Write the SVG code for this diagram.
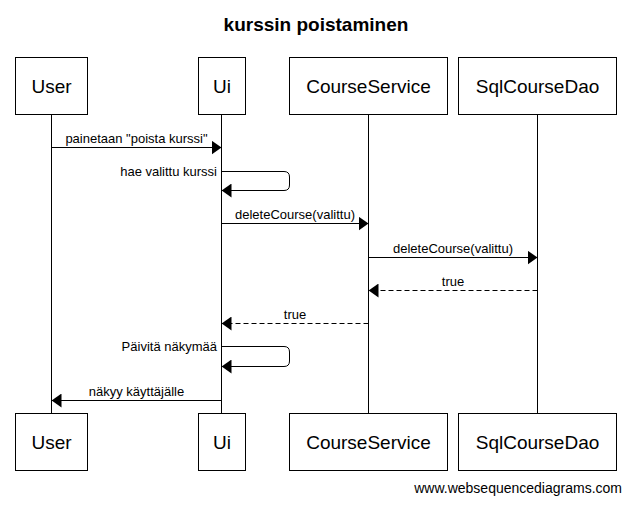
<svg xmlns="http://www.w3.org/2000/svg" width="631" height="505" viewBox="0 0 631 505">
<style>
.box{fill:#fff;stroke:#000;stroke-width:1}
.life{stroke:#000;stroke-width:1}
.msg{fill:none;stroke:#000;stroke-width:1}
.dash{stroke-dasharray:5,3}
.pt{font-family:"Liberation Sans",Arial,sans-serif;font-size:19px;fill:#000;text-anchor:middle}
.lbl{font-family:"Liberation Sans",Arial,sans-serif;font-size:13px;fill:#000;text-anchor:middle}
.lr{text-anchor:end}
.title{font-family:"Liberation Sans",Arial,sans-serif;font-size:19px;font-weight:bold;fill:#000;text-anchor:middle}
.foot{font-family:"Liberation Sans",Arial,sans-serif;font-size:14px;fill:#000;text-anchor:end}
</style>
<defs>
<marker id="ah" markerWidth="10" markerHeight="14" refX="10" refY="7" orient="auto" markerUnits="userSpaceOnUse">
<path d="M0,0 L10,7 L0,14 z" fill="#000"/>
</marker>
</defs>
<rect width="631" height="505" fill="#fff"/>
<text class="title" x="316" y="31">kurssin poistaminen</text>
<g id="lifelines">
<line class="life" x1="51.5" y1="114" x2="51.5" y2="413"/>
<line class="life" x1="221.5" y1="114" x2="221.5" y2="413"/>
<line class="life" x1="368.5" y1="114" x2="368.5" y2="413"/>
<line class="life" x1="537.5" y1="114" x2="537.5" y2="413"/>
</g>
<g id="node-user">
<rect class="box" x="15.5" y="57.5" width="72" height="57"/>
<text class="pt" x="51.5" y="93">User</text>
<rect class="box" x="15.5" y="413.5" width="72" height="57"/>
<text class="pt" x="51.5" y="449">User</text>
</g>
<g id="node-ui">
<rect class="box" x="198.5" y="57.5" width="47" height="57"/>
<text class="pt" x="222" y="93">Ui</text>
<rect class="box" x="198.5" y="413.5" width="47" height="57"/>
<text class="pt" x="222" y="449">Ui</text>
</g>
<g id="node-courseservice">
<rect class="box" x="289.5" y="57.5" width="158" height="57"/>
<text class="pt" x="368.5" y="93">CourseService</text>
<rect class="box" x="289.5" y="413.5" width="158" height="57"/>
<text class="pt" x="368.5" y="449">CourseService</text>
</g>
<g id="node-sqlcoursedao">
<rect class="box" x="458.5" y="57.5" width="158" height="57"/>
<text class="pt" x="537.5" y="93">SqlCourseDao</text>
<rect class="box" x="458.5" y="413.5" width="158" height="57"/>
<text class="pt" x="537.5" y="449">SqlCourseDao</text>
</g>
<g id="connectors">
<line class="msg" x1="51.5" y1="147.5" x2="221.5" y2="147.5" marker-end="url(#ah)"/>
<text class="lbl" x="136.5" y="143">painetaan "poista kurssi"</text>
<path class="msg" d="M221.5,171.5 H284 Q289.5,171.5 289.5,177 V185 Q289.5,190.5 284,190.5 H221.5" marker-end="url(#ah)"/>
<text class="lbl lr" x="217" y="176">hae valittu kurssi</text>
<line class="msg" x1="221.5" y1="223.5" x2="368.5" y2="223.5" marker-end="url(#ah)"/>
<text class="lbl" x="295" y="219">deleteCourse(valittu)</text>
<line class="msg" x1="368.5" y1="257.5" x2="537.5" y2="257.5" marker-end="url(#ah)"/>
<text class="lbl" x="453" y="253">deleteCourse(valittu)</text>
<line class="msg dash" x1="537.5" y1="290.5" x2="368.5" y2="290.5" marker-end="url(#ah)"/>
<text class="lbl" x="453" y="286">true</text>
<line class="msg dash" x1="368.5" y1="323.5" x2="221.5" y2="323.5" marker-end="url(#ah)"/>
<text class="lbl" x="295" y="319">true</text>
<path class="msg" d="M221.5,346.5 H284 Q289.5,346.5 289.5,352 V361 Q289.5,366.5 284,366.5 H221.5" marker-end="url(#ah)"/>
<text class="lbl lr" x="217" y="351">Päivitä näkymää</text>
<line class="msg" x1="221.5" y1="400.5" x2="51.5" y2="400.5" marker-end="url(#ah)"/>
<text class="lbl" x="136.5" y="396">näkyy käyttäjälle</text>
</g>
<text class="foot" x="622" y="493">www.websequencediagrams.com</text>
</svg>
